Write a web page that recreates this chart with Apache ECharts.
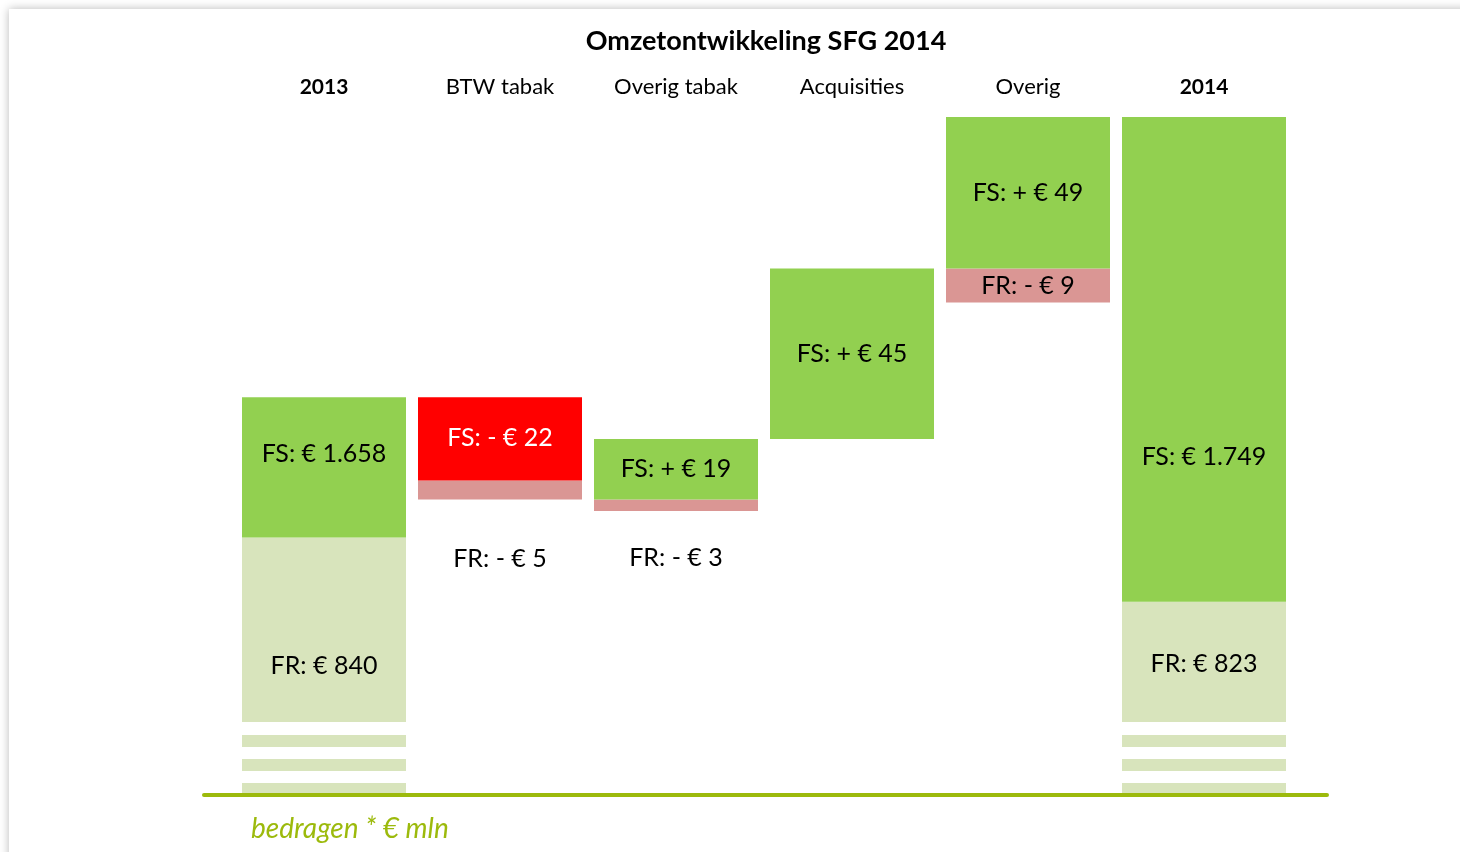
<!DOCTYPE html>
<html>
<head>
<meta charset="utf-8">
<title>Omzetontwikkeling SFG 2014</title>
<script src="https://cdn.jsdelivr.net/npm/echarts@6/dist/echarts.min.js"></script>
<style>
  html, body { margin: 0; padding: 0; background: #fff; overflow: hidden; }
  .sheet {
    position: absolute; left: 9px; top: 9px; width: 1600px; height: 1000px;
    background: #fff; box-shadow: 0 0 9px rgba(0, 0, 0, 0.28);
  }
  #chart { position: absolute; left: 0; top: 0; width: 1460px; height: 852px; }
</style>
</head>
<body>
<div class="sheet"></div>
<div id="chart"></div>
<script>
// categorieen en bedragen (* € mln)
const categories = ['2013', 'BTW tabak', 'Overig tabak', 'Acquisities', 'Overig', '2014'];
const isTotal = [true, false, false, false, false, true];
const fsValues = [1658, -22, 19, 45, 49, 1749];
const frValues = [840, -5, -3, 0, -9, 823];

const GREEN = '#92d050';
const LIGHT = '#d8e4bc';
const RED = '#ff0000';
const PINK = '#da9694';
const OLIVE = '#9cba0c';
const FONT = 'Lato, "Noto Sans", sans-serif';

// waterval opbouwen: onzichtbare basis + FR-deel + FS-deel
const baseData = [], frData = [], fsData = [];
let level = 0;
categories.forEach((c, i) => {
  const f = fsValues[i], r = frValues[i];
  if (isTotal[i]) {
    baseData.push(0); frData.push(r); fsData.push(f);
    level = f + r;
  } else {
    const base = f < 0 ? level + f + r : level + r;
    baseData.push(base);
    frData.push(-r);
    fsData.push(f < 0 ? -f : f + r);
    level += f + r;
  }
});
const yMax = level;

const euro = v => v.toString().replace(/\B(?=(\d{3})+(?!\d))/g, '.');
const labelText = (prefix, v, total) => {
  if (total) return prefix + ': € ' + euro(v);
  return prefix + ': ' + (v < 0 ? '- ' : '+ ') + '€ ' + euro(Math.abs(v));
};

// label verschuivingen (zoals in het origineel geplaatst)
const fsOffsets = [[0, -13], [0, -1], [0, 0], [0, 0], [0, 0], [0, 98]];
const frOffsets = [[0, 0], [0, 69], [0, 53], [0, 0], [0, 0], [0, -34]];

const labelBase = { show: true, position: 'inside', fontFamily: FONT, fontSize: 25, color: '#000' };

const fsSeries = fsData.map((v, i) => ({
  value: v,
  itemStyle: { color: isTotal[i] || fsValues[i] > 0 ? GREEN : RED },
  label: Object.assign({}, labelBase, {
    formatter: labelText('FS', fsValues[i], isTotal[i]),
    color: fsValues[i] < 0 ? '#fff' : '#000',
    offset: fsOffsets[i]
  })
}));
const frSeries = frData.map((v, i) => ({
  value: v,
  itemStyle: { color: isTotal[i] ? LIGHT : PINK },
  label: Object.assign({}, labelBase, {
    show: frValues[i] !== 0,
    formatter: labelText('FR', frValues[i], isTotal[i]),
    offset: frOffsets[i]
  })
}));

const chart = echarts.init(document.getElementById('chart'));
chart.setOption({
  animation: false,
  title: [{
    text: 'Omzetontwikkeling SFG 2014',
    left: 761, top: 23, textAlign: 'center',
    textStyle: { fontFamily: FONT, fontSize: 27, fontWeight: 'bold', color: '#000' }
  }, {
    text: 'bedragen * € mln',
    left: 246, top: 810,
    textStyle: { fontFamily: FONT, fontSize: 28, fontStyle: 'italic', fontWeight: 'normal', color: OLIVE }
  }],
  grid: [
    { left: 236, right: 168, top: 117, bottom: 57 },
    { left: 204, right: 133, top: 117, bottom: 57 }
  ],
  xAxis: [{
    type: 'category', gridIndex: 0, data: categories, position: 'top',
    axisLine: { show: false }, axisTick: { show: false },
    axisLabel: {
      margin: 19, fontFamily: FONT, fontSize: 22, color: '#000',
      formatter: (v, i) => isTotal[i] ? '{b|' + v + '}' : v,
      rich: { b: { fontFamily: FONT, fontSize: 21, fontWeight: 'bold', color: '#000' } }
    }
  }, {
    type: 'value', gridIndex: 1, min: 0, max: 1, z: 10,
    axisLine: { show: true, lineStyle: { color: OLIVE, width: 4 } },
    axisTick: { show: false }, axisLabel: { show: false }, splitLine: { show: false }
  }],
  yAxis: [{
    type: 'value', gridIndex: 0, min: 0, max: yMax,
    axisLine: { show: false }, axisTick: { show: false },
    axisLabel: { show: false }, splitLine: { show: false },
    breaks: [
      { start: 15, end: 800, gap: 13 },
      { start: 841, end: 2466, gap: 4 }
    ],
    breakArea: { show: false, itemStyle: { opacity: 0, borderWidth: 0 } }
  }, {
    type: 'value', gridIndex: 1, show: false, min: 0, max: 1
  }],
  series: [{
    type: 'bar', name: 'basis', stack: 'w', barWidth: 164, silent: true,
    itemStyle: { color: 'transparent' }, data: baseData
  }, {
    type: 'bar', name: 'FR', stack: 'w', barWidth: 164, data: frSeries
  }, {
    type: 'bar', name: 'FS', stack: 'w', barWidth: 164, data: fsSeries
  }, {
    // witte onderbrekingen onder de totaalkolommen
    type: 'custom', z: 5, silent: true,
    encode: { x: 0, y: 1 },
    data: categories.map((c, i) => [i, 0]).filter(d => isTotal[d[0]]),
    renderItem: (params, api) => {
      const p = api.coord([api.value(0), 0]);
      const gaps = [[73, 13], [48, 12], [24, 12]];
      return {
        type: 'group',
        children: gaps.map(g => ({
          type: 'rect',
          shape: { x: p[0] - 83, y: p[1] - g[0], width: 166, height: g[1] },
          style: { fill: '#fff' }
        }))
      };
    }
  }]
});
</script>
</body>
</html>
